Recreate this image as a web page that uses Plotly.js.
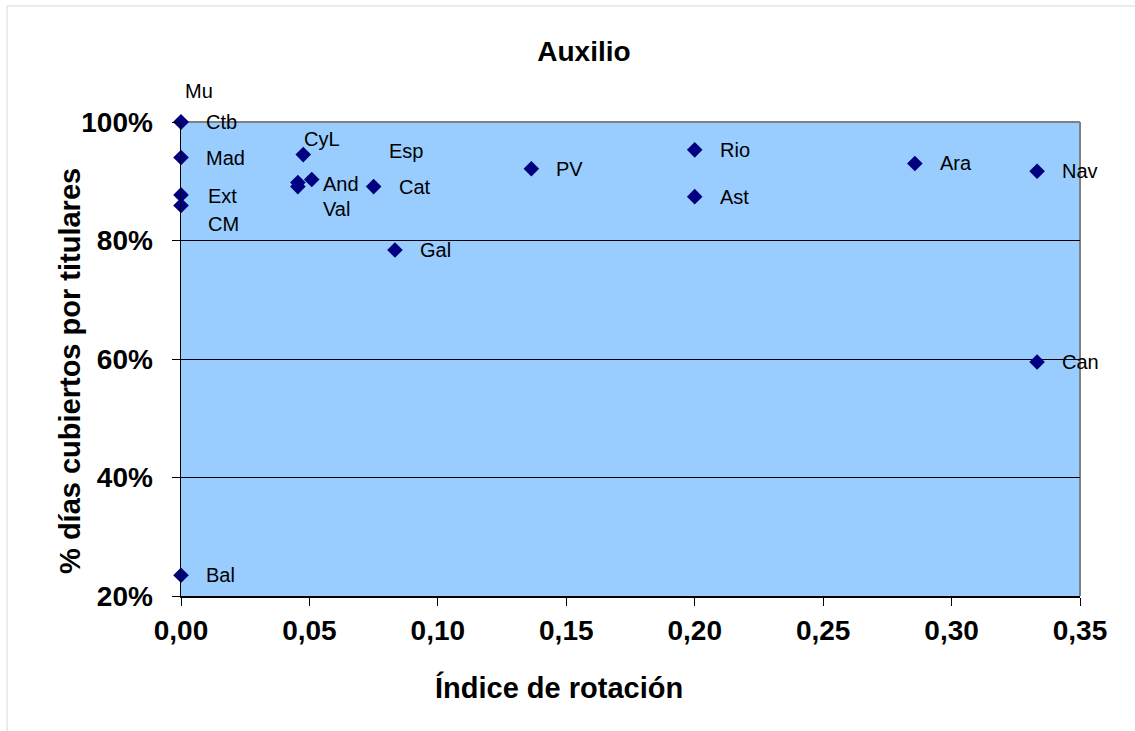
<!DOCTYPE html>
<html>
<head>
<meta charset="utf-8">
<script src="https://cdn.plot.ly/plotly-3.0.1.min.js"></script>
<style>html,body{margin:0;padding:0;background:#fff;}#chart{width:1135px;height:731px;}</style>
</head>
<body>
<div id="chart"></div>
<script>
// ---- data ----
const regions = ['Mu','Ctb','Mad','Ext','CM','CyL','And','Val','Esp','Cat','Gal','PV','Rio','Ast','Ara','Nav','Can','Bal'];
const rotationIndex = [0, 0, 0, 0, 0, 0.0476, 0.0455, 0.0455, 0.0509, 0.075, 0.0833, 0.1364, 0.2, 0.2, 0.2857, 0.3333, 0.3333, 0];
const coveredDays = [1.0, 1.0, 0.94, 0.877, 0.859, 0.945, 0.891, 0.898, 0.903, 0.891, 0.784, 0.921, 0.953, 0.874, 0.930, 0.917, 0.595, 0.235];
const xTickValues = [0, 0.05, 0.10, 0.15, 0.20, 0.25, 0.30, 0.35];
const yTickValues = [0.2, 0.4, 0.6, 0.8, 1.0];
const chartTitle = 'Auxilio';
const xTitle = 'Índice de rotación';
const yTitle = '% días cubiertos por titulares';

// ---- label placement (style only, pixel nudges) ----
const defaultNudge = {dx: 23, dy: 0};
const labelNudge = {
  'Mu':  {dx: 2,  dy: 31},
  'Ext': {dx: 25, dy: -1},
  'CM':  {dx: 25, dy: -18},
  'CyL': {dx: -1, dy: 16},
  'And': {dx: 23, dy: 3},
  'Val': {dx: 23, dy: -27},
  'Esp': {dx: 75, dy: 28}
};

const FONT = 'Liberation Sans, Arial, sans-serif';

const trace = {
  type: 'scatter',
  mode: 'markers',
  x: rotationIndex,
  y: coveredDays,
  text: regions,
  hoverinfo: 'text',
  cliponaxis: false,
  marker: {symbol: 'diamond', size: 12, color: '#000080', line: {width: 0}}
};

const annotations = regions.map((name, i) => {
  const n = labelNudge[name] || defaultNudge;
  return {
    x: rotationIndex[i], y: coveredDays[i], xref: 'x', yref: 'y',
    text: name, showarrow: false, xanchor: 'left', yanchor: 'middle',
    xshift: n.dx, yshift: n.dy,
    font: {family: FONT, size: 20, color: '#000'}
  };
});

// axis titles
annotations.push({
  xref: 'paper', yref: 'paper', x: 0.4205, y: -0.194,
  text: '<b>' + xTitle + '</b>', showarrow: false, xanchor: 'center', yanchor: 'middle',
  font: {family: FONT, size: 29, color: '#000'}
});
annotations.push({
  xref: 'paper', yref: 'paper', x: -0.1235, y: 0.4747, textangle: -90,
  text: '<b>' + yTitle + '</b>', showarrow: false, xanchor: 'center', yanchor: 'middle',
  font: {family: FONT, size: 29, color: '#000'}
});

const layout = {
  width: 1135, height: 731,
  margin: {l: 181, r: 55, t: 122, b: 135},
  paper_bgcolor: '#ffffff',
  plot_bgcolor: '#99CCFF',
  separators: ',.',
  showlegend: false,
  title: {
    text: '<b>' + chartTitle + '</b>',
    x: 0.5145, xref: 'container', xanchor: 'center',
    y: 0.930, yref: 'container', yanchor: 'middle',
    font: {family: FONT, size: 28, color: '#000'}
  },
  xaxis: {
    range: [0, 0.35], tickvals: xTickValues, tickformat: '.2f',
    showgrid: false, zeroline: false,
    showline: true, linecolor: '#000', linewidth: 1.5,
    ticks: 'outside', ticklen: 8, tickcolor: '#000', tickwidth: 1,
    tickfont: {family: FONT, size: 28, color: '#000', weight: 'bold'},
    ticklabelstandoff: 1
  },
  yaxis: {
    range: [0.2, 1.0], tickvals: yTickValues, tickformat: '.0%',
    showgrid: true, gridcolor: '#000', gridwidth: 1, zeroline: false,
    showline: true, linecolor: '#000', linewidth: 1.5,
    ticks: 'outside', ticklen: 8, tickcolor: '#000', tickwidth: 1,
    tickfont: {family: FONT, size: 28, color: '#000', weight: 'bold'},
    ticklabelstandoff: 13
  },
  shapes: [
    // plot area border (top/right grey)
    {type: 'line', xref: 'paper', yref: 'paper', x0: 0, x1: 1, y0: 1, y1: 1,
     line: {color: '#808080', width: 2}, layer: 'between'},
    {type: 'line', xref: 'paper', yref: 'paper', x0: 1, x1: 1, y0: 0, y1: 1,
     line: {color: '#808080', width: 2}, layer: 'between'},
    // outer chart frame
    {type: 'rect', xref: 'paper', yref: 'paper', x0: -0.1935, x1: 1.08, y0: -0.32, y1: 1.2447,
     line: {color: '#d9d9d9', width: 1}, fillcolor: 'rgba(0,0,0,0)', layer: 'below'}
  ],
  annotations: annotations
};

Plotly.newPlot('chart', [trace], layout, {displayModeBar: false, staticPlot: true});
</script>
</body>
</html>
